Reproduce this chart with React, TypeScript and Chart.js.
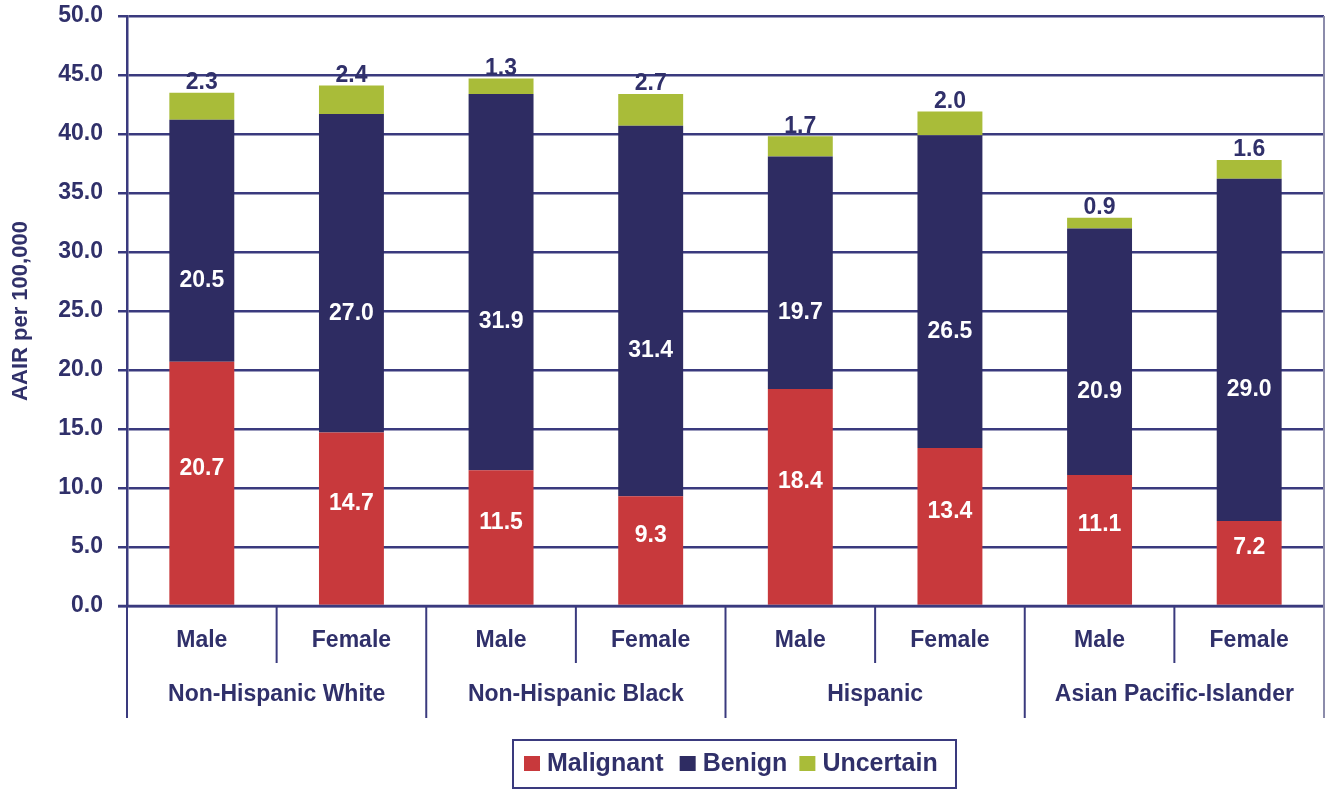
import { useEffect, useRef } from 'react';
import { Chart, registerables } from 'chart.js';

Chart.register(...registerables);

// Ethnic groups, each split into male / female bars
const groups = ['Non-Hispanic White', 'Non-Hispanic Black', 'Hispanic', 'Asian Pacific-Islander'];
const sexes = ['Male', 'Female'];

// Age-adjusted incidence rates per 100,000 (stacked)
const malignant = [20.7, 14.7, 11.5, 9.3, 18.4, 13.4, 11.1, 7.2];
const benign = [20.5, 27.0, 31.9, 31.4, 19.7, 26.5, 20.9, 29.0];
const uncertain = [2.3, 2.4, 1.3, 2.7, 1.7, 2.0, 0.9, 1.6];

const seriesNames = ['Malignant', 'Benign', 'Uncertain'];
const seriesColors = ['#c8393c', '#2e2c62', '#a9bc39'];

const yAxisTitle = 'AAIR per 100,000';
const yMin = 0;
const yMax = 50;
const yStep = 5;

const FONT = '"Liberation Sans", Arial, Helvetica, sans-serif';
const INK = '#30306a';
const GRID = '#3a3a7e';
const W = 1328;
const H = 790;

const categories = groups.flatMap((g) => sexes.map((s) => `${g} ${s}`));

const decor = {
  id: 'decor',
  afterDatasetsDraw(chart: any) {
    const ctx = chart.ctx as CanvasRenderingContext2D;
    const { left, right } = chart.chartArea;
    const y = chart.scales.y;
    ctx.save();
    // baseline stays visible beneath the bars
    ctx.strokeStyle = GRID;
    ctx.lineWidth = 2.5;
    ctx.beginPath();
    ctx.moveTo(left - 9, y.getPixelForValue(0));
    ctx.lineTo(right, y.getPixelForValue(0));
    ctx.stroke();

    // value labels
    ctx.font = `bold 23px ${FONT}`;
    ctx.textAlign = 'center';
    ctx.textBaseline = 'middle';
    const mMeta = chart.getDatasetMeta(0);
    const bMeta = chart.getDatasetMeta(1);
    const uMeta = chart.getDatasetMeta(2);
    categories.forEach((_, i) => {
      const m = mMeta.data[i];
      const b = bMeta.data[i];
      const u = uMeta.data[i];
      ctx.fillStyle = '#ffffff';
      ctx.fillText(malignant[i].toFixed(1), m.x, (m.y + m.base) / 2 - 15);
      ctx.fillText(benign[i].toFixed(1), b.x, (b.y + b.base) / 2 + 40);
      ctx.fillStyle = INK;
      ctx.fillText(uncertain[i].toFixed(1), u.x, u.y - 10);
    });
    ctx.restore();
  },
  afterDraw(chart: any) {
    const ctx = chart.ctx as CanvasRenderingContext2D;
    const { left, right, top, bottom } = chart.chartArea;
    const x = chart.scales.x;
    const n = categories.length;
    const catW = (right - left) / n;
    const shortEnd = bottom + 57;
    const longEnd = bottom + 112;
    ctx.save();

    // category separators
    for (let k = 0; k <= n; k++) {
      const xp = left + k * catW;
      ctx.lineWidth = 2;
      if (k === n) {
        ctx.strokeStyle = '#8c8cab';
        ctx.beginPath();
        ctx.moveTo(xp, top);
        ctx.lineTo(xp, longEnd);
        ctx.stroke();
        continue;
      }
      ctx.strokeStyle = GRID;
      ctx.beginPath();
      ctx.moveTo(xp, bottom);
      ctx.lineTo(xp, k % sexes.length === 0 ? longEnd : shortEnd);
      ctx.stroke();
    }

    // two-level category labels
    ctx.fillStyle = INK;
    ctx.font = `bold 23px ${FONT}`;
    ctx.textAlign = 'center';
    ctx.textBaseline = 'middle';
    categories.forEach((_, i) => {
      ctx.fillText(sexes[i % sexes.length], x.getPixelForValue(i), bottom + 35);
    });
    groups.forEach((g, gi) => {
      const cx = left + (gi * sexes.length + sexes.length / 2) * catW;
      ctx.fillText(g, cx, bottom + 89);
    });

    // y-axis title
    ctx.save();
    ctx.translate(21, (top + bottom) / 2);
    ctx.rotate(-Math.PI / 2);
    ctx.font = `bold 22px ${FONT}`;
    ctx.fillText(yAxisTitle, 0, 0);
    ctx.restore();

    // legend
    const boxX = 513;
    const boxY = 740;
    const boxW = 443;
    const boxH = 48;
    ctx.strokeStyle = GRID;
    ctx.lineWidth = 2;
    ctx.strokeRect(boxX, boxY, boxW, boxH);
    ctx.font = `bold 25px ${FONT}`;
    ctx.textAlign = 'left';
    const gaps = [16, 12, 0];
    let lx = boxX + 11;
    const cy = boxY + boxH / 2 - 1;
    seriesNames.forEach((name, i) => {
      ctx.fillStyle = seriesColors[i];
      ctx.fillRect(lx, cy - 7, 16, 15);
      lx += 23;
      ctx.fillStyle = INK;
      ctx.fillText(name, lx, cy + 1);
      lx += ctx.measureText(name).width + gaps[i];
    });

    ctx.restore();
  },
};

export default function App() {
  const ref = useRef<HTMLCanvasElement>(null);

  useEffect(() => {
    document.body.style.margin = '0';
    const canvas = ref.current;
    if (!canvas) return;
    const chart = new Chart(canvas, {
      type: 'bar',
      data: {
        labels: categories,
        datasets: [malignant, benign, uncertain].map((values, i) => ({
          label: seriesNames[i],
          data: values,
          backgroundColor: seriesColors[i],
          borderWidth: 0,
          barPercentage: 0.434,
          categoryPercentage: 1,
        })),
      },
      options: {
        responsive: false,
        animation: false,
        layout: { padding: { top: 16, right: 4, left: 0, bottom: 0 } },
        plugins: {
          legend: { display: false },
          tooltip: { enabled: false },
        },
        scales: {
          x: {
            stacked: true,
            grid: { display: false },
            border: { display: false },
            ticks: { display: false },
            afterFit(scale: any) {
              scale.height = 184;
              scale.paddingLeft = 0;
              scale.paddingRight = 0;
            },
          },
          y: {
            stacked: true,
            min: yMin,
            max: yMax,
            grid: { color: GRID, lineWidth: 2.5, tickLength: 9 },
            border: { display: true, color: GRID, width: 2.5 },
            ticks: {
              stepSize: yStep,
              padding: 15,
              color: INK,
              font: { family: FONT, size: 23, weight: 'bold' },
              callback: (v: any) => Number(v).toFixed(1),
            },
            afterFit(scale: any) {
              scale.width = 127;
              scale.paddingTop = 0;
              scale.paddingBottom = 0;
            },
          },
        },
      },
      plugins: [decor],
    });
    return () => chart.destroy();
  }, []);

  return (
    <div style={{ width: W, height: H, background: '#fff' }}>
      <canvas ref={ref} width={W} height={H} />
    </div>
  );
}
